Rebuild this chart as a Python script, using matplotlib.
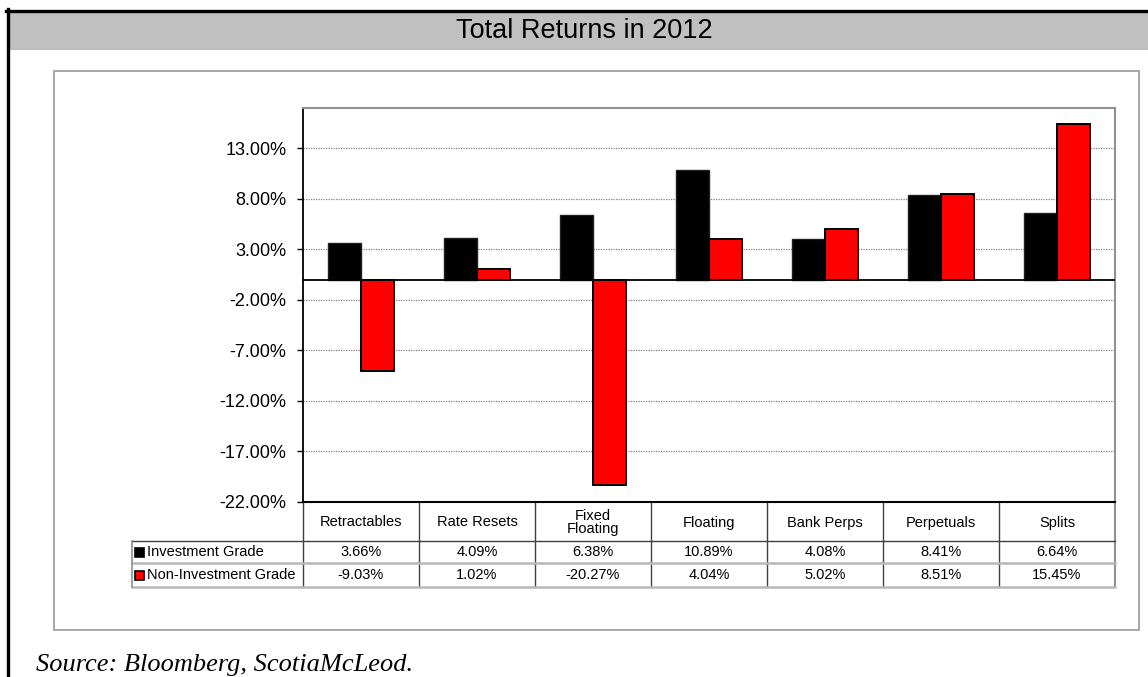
import numpy as np
import matplotlib
matplotlib.use("Agg")
import matplotlib.pyplot as plt
import matplotlib.transforms as mtransforms
from matplotlib import font_manager
from matplotlib.patches import Rectangle
from matplotlib.lines import Line2D

# Data
categories = ["Retractables", "Rate Resets", "Fixed\nFloating", "Floating",
              "Bank Perps", "Perpetuals", "Splits"]
series_names = ["Investment Grade", "Non-Investment Grade"]
investment_grade = [3.66, 4.09, 6.38, 10.89, 4.08, 8.41, 6.64]
non_investment_grade = [-9.03, 1.02, -20.27, 4.04, 5.02, 8.51, 15.45]
y_ticks = [-22, -17, -12, -7, -2, 3, 8, 13]

W, H = 1148, 677
SANS = ["Liberation Sans", "DejaVu Sans"]
plt.rcParams["font.family"] = SANS

# title font: narrow face if there is one
installed = {f.name for f in font_manager.fontManager.ttflist}
if "Liberation Sans Narrow" in installed:
    title_family, title_size = ["Liberation Sans Narrow"], 22
else:
    title_family, title_size = SANS, 19.5

fig = plt.figure(figsize=(W / 100, H / 100), dpi=100)
fig.patch.set_facecolor("white")

# pixel coords (origin top-left) -> figure
PX = mtransforms.Affine2D().scale(1 / W, -1 / H).translate(0, 1) + fig.transFigure

# Outer frame and title banner
fig.add_artist(Rectangle((9, 12.5), W, 37.5, transform=PX, facecolor="#C0C0C0", edgecolor="none"))
fig.add_artist(Line2D([6, W], [10.5, 10.5], transform=PX, color="black", lw=2.4))
fig.add_artist(Line2D([7.5, 7.5], [9, H], transform=PX, color="black", lw=2.4))
fig.text(584 / W, 1 - 31 / H, "Total Returns in 2012",
         family=title_family, fontsize=title_size, ha="center", va="center")

# Inner chart box
fig.add_artist(Rectangle((54, 71), 1139 - 54, 630 - 71, transform=PX,
                         facecolor="none", edgecolor="#A0A0A0", lw=1.3))

# Plot area
left, right, top, bottom = 303, 1115, 108, 502
ax = fig.add_axes([left / W, 1 - bottom / H, (right - left) / W, (bottom - top) / H])
x = np.arange(len(categories))
w = 1 / 3.5
ax.bar(x - w / 2, investment_grade, w, color="black", edgecolor="#202020", lw=1, zorder=3)
ax.bar(x + w / 2, non_investment_grade, w, color="#FF0000", edgecolor="black", lw=1.4, zorder=3)
ax.set_xlim(-0.5, len(categories) - 0.5)
ax.set_ylim(-22, 17)
ax.set_yticks(y_ticks)
ax.set_yticklabels([f"{v:.2f}%" for v in y_ticks], fontsize=13)
ax.set_xticks([])
for v in y_ticks[1:]:
    ax.axhline(v, color="#808080", lw=0.9, ls=(0, (1, 1)), zorder=1)
ax.axhline(0, color="black", lw=1.3, zorder=4)
ax.tick_params(axis="y", direction="out", length=4, width=1, pad=8, colors="black")
ax.spines["left"].set_color("black")
ax.spines["left"].set_linewidth(1.3)
ax.spines["bottom"].set_color("black")
ax.spines["bottom"].set_linewidth(1.5)
for s in ("top", "right"):
    ax.spines[s].set_color("#909090")
    ax.spines[s].set_linewidth(1.5)

# Data table under the axis
BT = mtransforms.blended_transform_factory(ax.transData, PX)
row_y = [502, 541, 563, 587]
label_left = 132
tfs = 10.5

# vertical dividers between categories
for i in range(1, len(categories)):
    ax.add_line(Line2D([i - 0.5, i - 0.5], [row_y[0], row_y[-1]], transform=BT,
                       color="#404040", lw=1, clip_on=False))
ax.add_line(Line2D([len(categories) - 0.5] * 2, [row_y[0], row_y[-1]], transform=BT,
                   color="#909090", lw=1.5, clip_on=False))
ax.add_line(Line2D([-0.5, -0.5], [row_y[0], row_y[-1]], transform=BT,
                   color="#404040", lw=1, clip_on=False))
# horizontal lines
fig.add_artist(Line2D([label_left, right], [row_y[1], row_y[1]], transform=PX, color="#404040", lw=1))
fig.add_artist(Line2D([label_left, right], [row_y[2], row_y[2]], transform=PX, color="#B8B8B8", lw=1.8))
fig.add_artist(Line2D([label_left, right], [row_y[3], row_y[3]], transform=PX, color="#B8B8B8", lw=1.8))
fig.add_artist(Line2D([label_left, label_left], [row_y[1], row_y[3]], transform=PX, color="#909090", lw=1.2))

# header texts
for i, c in enumerate(categories):
    ax.text(i, (row_y[0] + row_y[1]) / 2 + 1, c, transform=BT, ha="center", va="center",
            fontsize=tfs, linespacing=1.0, clip_on=False)

# rows with legend keys
colors = ["black", "#FF0000"]
for r, (name, vals) in enumerate(zip(series_names, [investment_grade, non_investment_grade])):
    yc = (row_y[r + 1] + row_y[r + 2]) / 2
    fig.add_artist(Rectangle((135, yc - 4.5), 9, 9, transform=PX,
                             facecolor=colors[r], edgecolor="black", lw=1.2))
    fig.text(147 / W, 1 - yc / H, name, ha="left", va="center", fontsize=tfs)
    for i, v in enumerate(vals):
        ax.text(i, yc, f"{v:.2f}%", transform=BT, ha="center", va="center",
                fontsize=tfs, clip_on=False)

# Source note
fig.text(36 / W, 1 - 665 / H, "Source: Bloomberg, ScotiaMcLeod.",
         family=["Liberation Serif", "DejaVu Serif"], style="italic", fontsize=19,
         ha="left", va="center")

fig.savefig("out.png", dpi=100)
